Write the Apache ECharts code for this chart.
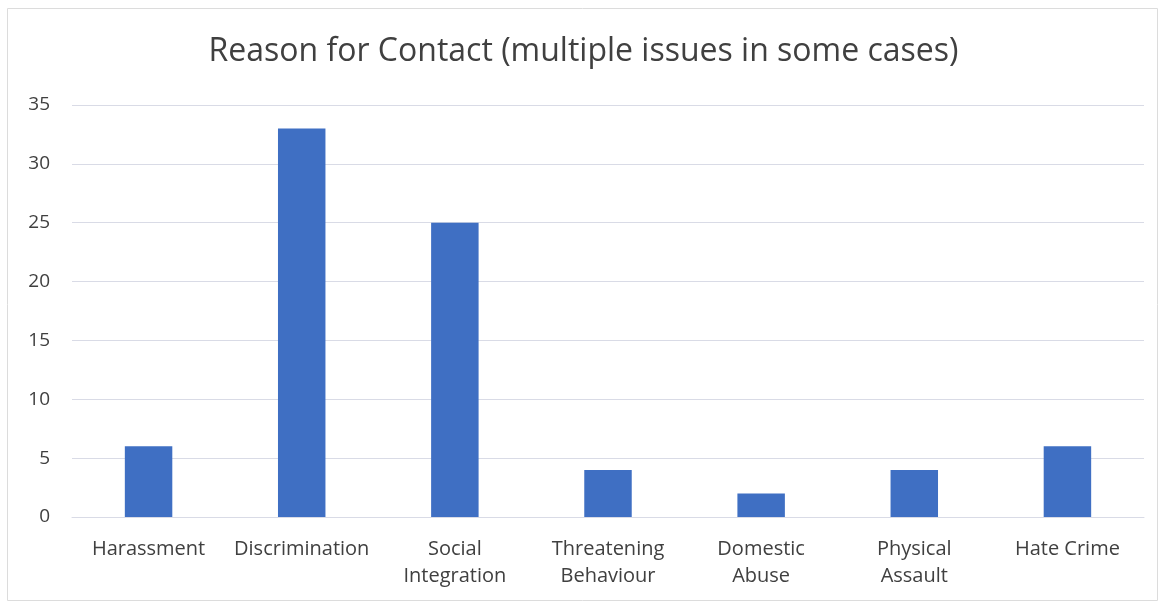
<!DOCTYPE html>
<html>
<head>
<meta charset="utf-8">
<script src="https://cdn.jsdelivr.net/npm/echarts@6/dist/echarts.min.js"></script>
<style>
  html, body { margin: 0; padding: 0; background: #ffffff; }
  #chart { width: 1167px; height: 608px; }
</style>
</head>
<body>
<div id="chart"></div>
<script>
// Reasons recorded for each contact
const categories = ['Harassment', 'Discrimination', 'Social\nIntegration', 'Threatening\nBehaviour', 'Domestic\nAbuse', 'Physical\nAssault', 'Hate Crime'];
const contactCounts = [6, 33, 25, 4, 2, 4, 6];
const yTicks = { min: 0, max: 35, interval: 5 };

const chart = echarts.init(document.getElementById('chart'), null, { renderer: 'canvas' });
const font = '"Open Sans", "Noto Sans", sans-serif';

chart.setOption({
  backgroundColor: '#ffffff',
  animation: false,
  title: {
    text: 'Reason for Contact (multiple issues in some cases)',
    left: 'center',
    top: 31,
    textStyle: { fontFamily: font, fontSize: 32, fontWeight: 'normal', color: '#404040' }
  },
  graphic: [{
    type: 'rect',
    shape: { x: 7.5, y: 8.5, width: 1150, height: 592 },
    style: { fill: 'none', stroke: '#dcdcdc', lineWidth: 1 },
    silent: true
  }],
  grid: { left: 72, right: 23, top: 105, bottom: 91 },
  xAxis: {
    type: 'category',
    data: categories,
    axisTick: { show: false },
    axisLine: { show: true, lineStyle: { color: '#d9dbe6', width: 1 } },
    axisLabel: {
      fontFamily: font, fontSize: 20, color: '#404040',
      margin: 19, lineHeight: 27, interval: 0
    }
  },
  yAxis: {
    type: 'value',
    min: yTicks.min, max: yTicks.max, interval: yTicks.interval,
    axisLine: { show: false },
    axisTick: { show: false },
    splitLine: { lineStyle: { color: '#d9dbe6', width: 1 } },
    axisLabel: { fontFamily: font, fontSize: 19, color: '#404040', margin: 22 }
  },
  series: [{
    type: 'bar',
    data: contactCounts,
    barWidth: '31%',
    itemStyle: { color: '#3F6FC3' }
  }]
});
</script>
</body>
</html>
